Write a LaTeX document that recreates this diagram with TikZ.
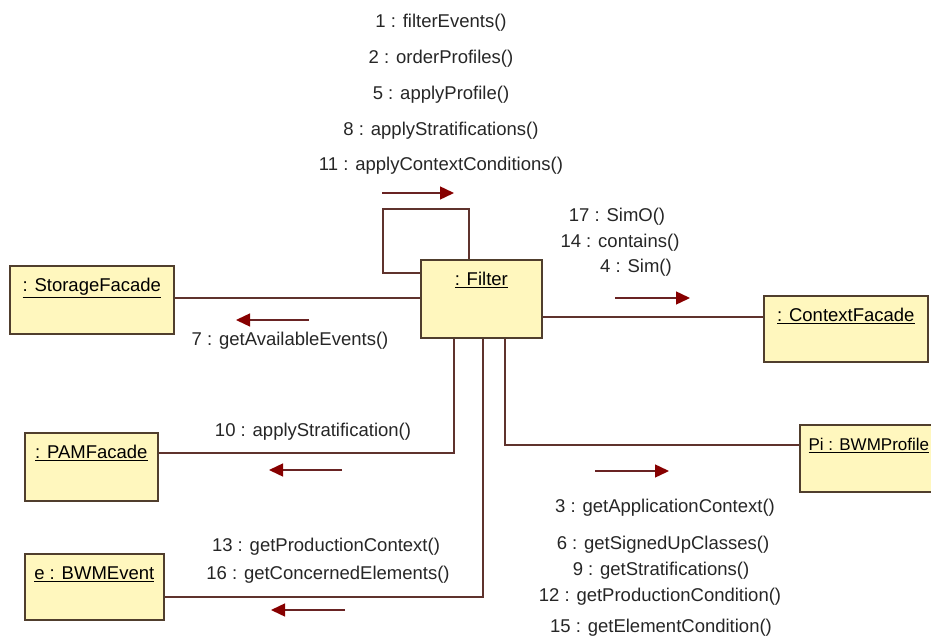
\documentclass[tikz,border=0pt]{standalone}
\usepackage{fontspec}
\setmainfont{Liberation Sans}
\usetikzlibrary{arrows.meta}
\definecolor{boxfill}{RGB}{255,247,190}
\definecolor{boxborder}{RGB}{80,62,45}
\definecolor{linkcol}{RGB}{95,50,45}
\definecolor{msgline}{RGB}{105,35,35}
\definecolor{msghead}{RGB}{135,0,0}
\begin{document}
\begin{tikzpicture}[x=1pt,y=-1pt,
  font=\fontsize{18.5}{22}\selectfont,
  objbox/.style={draw=boxborder, fill=boxfill, line width=1.6pt, anchor=north west,
    inner sep=0pt, text height=26pt, align=center},
  link/.style={draw=linkcol, line width=1.6pt},
  msg/.style={draw=msgline, line width=1.4pt,
    -{Triangle[length=14pt,width=13pt,fill=msghead,color=msghead]}},
  lbl/.style={inner sep=0pt, text=black!85}]
\useasboundingbox (0,0) rectangle (931,639);
\clip (0,0) rectangle (931,639);

% objects
\node[objbox, minimum width=164pt, text depth=42pt] (storage) at (9,265) {\underline{: StorageFacade}};
\node[objbox, minimum width=121pt, text depth=52pt] (filter) at (420,259) {\underline{: Filter}};
\node[objbox, minimum width=164pt, text depth=40pt] (context) at (763,295) {\underline{: ContextFacade}};
\node[objbox, minimum width=133pt, text depth=42pt] (pam) at (24,432) {\underline{: PAMFacade}};
\node[objbox, minimum width=139pt, text depth=40pt] (bwm) at (24,553) {\underline{e : BWMEvent}};
\node[objbox, minimum width=138pt, text depth=41pt, font=\fontsize{17}{20}\selectfont] (pi) at (799,424) {\underline{Pi : BWMProfile}};

% links
\draw[link] (storage.east |- 0,298) -- (filter.west |- 0,298);
\draw[link] (filter.north -| 469,0) |- (383,209) |- (filter.west |- 0,273);
\draw[link] (filter.east |- 0,317) -- (context.west |- 0,317);
\draw[link] (filter.south -| 454,0) |- (pam.east |- 0,453);
\draw[link] (filter.south -| 483,0) |- (bwm.east |- 0,597);
\draw[link] (filter.south -| 505,0) |- (pi.west |- 0,445);

% message arrows
\coordinate (s1) at (382,193); \coordinate (e1) at (454,193);
\coordinate (s2) at (309,320); \coordinate (e2) at (236,320);
\coordinate (s3) at (615,298); \coordinate (e3) at (690,298);
\coordinate (s4) at (342,470); \coordinate (e4) at (269,470);
\coordinate (s5) at (595,471); \coordinate (e5) at (669,471);
\coordinate (s6) at (345,610); \coordinate (e6) at (271,610);
\draw[msg] (s1) -- (e1);
\draw[msg] (s2) -- (e2);
\draw[msg] (s3) -- (e3);
\draw[msg] (s4) -- (e4);
\draw[msg] (s5) -- (e5);
\draw[msg] (s6) -- (e6);

% labels: self messages
\node[lbl] (m1) at (441,23) {1 : filterEvents()};
\node[lbl] (m2) at (441,59) {2 : orderProfiles()};
\node[lbl] (m5) at (441,95) {5 : applyProfile()};
\node[lbl] (m8) at (441,131) {8 : applyStratifications()};
\node[lbl] (m11) at (441,166) {11 : applyContextConditions()};
% context
\node[lbl] (m17) at (617,217) {17 : SimO()};
\node[lbl] (m14) at (620,243) {14 : contains()};
\node[lbl] (m4) at (636,268) {4 : Sim()};
% storage
\node[lbl] (m7) at (290,341) {7 : getAvailableEvents()};
% pam
\node[lbl] (m10) at (313,432) {10 : applyStratification()};
% bwm event
\node[lbl] (m13) at (326,547) {13 : getProductionContext()};
\node[lbl] (m16) at (328,575) {16 : getConcernedElements()};
% profile
\node[lbl] (m3) at (665,508) {3 : getApplicationContext()};
\node[lbl] (m6) at (663,545) {6 : getSignedUpClasses()};
\node[lbl] (m9) at (661,571) {9 : getStratifications()};
\node[lbl] (m12) at (660,597) {12 : getProductionCondition()};
\node[lbl] (m15) at (661,628) {15 : getElementCondition()};
\end{tikzpicture}
\end{document}
